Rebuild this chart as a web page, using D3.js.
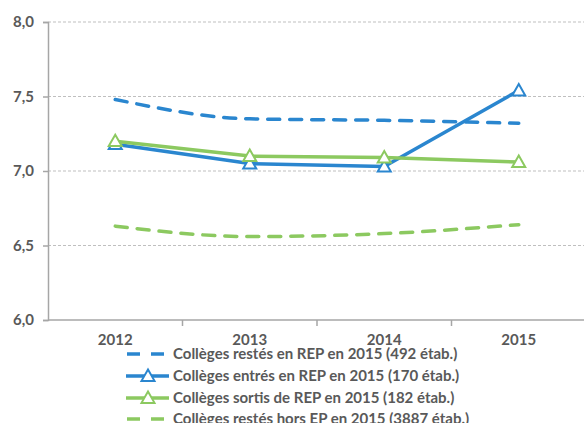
<!DOCTYPE html>
<html>
<head>
<meta charset="utf-8">
<script src="https://cdn.jsdelivr.net/npm/d3@7"></script>
<style>
  body { margin: 0; background: #fff; }
  text { font-family: Lato, "Liberation Sans", sans-serif; font-weight: bold; fill: #595959; }
</style>
</head>
<body>
<svg id="chart" width="584" height="423"></svg>
<script>
"use strict";

const years = ["2012", "2013", "2014", "2015"];
const yTicks = [6.0, 6.5, 7.0, 7.5, 8.0];

const restesEnRep = [7.48, 7.35, 7.34, 7.32];
const entresEnRep = [7.18, 7.05, 7.03, 7.54];
const sortisDeRep = [7.20, 7.10, 7.09, 7.06];
const restesHorsEp = [6.63, 6.56, 6.58, 6.64];

const seriesLabels = [
  "Collèges restés en REP en 2015 (492 étab.)",
  "Collèges entrés en REP en 2015 (170 étab.)",
  "Collèges sortis de REP en 2015 (182 étab.)",
  "Collèges restés hors EP en 2015 (3887 étab.)"
];

const blue = "#2a86cf";
const green = "#8cc960";

const series = [
  { label: seriesLabels[0], values: restesEnRep, color: blue, dashed: true, marker: false },
  { label: seriesLabels[1], values: entresEnRep, color: blue, dashed: false, marker: true },
  { label: seriesLabels[2], values: sortisDeRep, color: green, dashed: false, marker: true },
  { label: seriesLabels[3], values: restesHorsEp, color: green, dashed: true, marker: false }
];

const svg = d3.select("#chart");
const m = { left: 48, top: 22, right: 0, bottom: 103 };
const W = 584, H = 423;

const x = d3.scaleBand().domain(years).range([m.left, m.left + 4 * 134.5]);
const y = d3.scaleLinear().domain([6, 8]).range([H - m.bottom, m.top]);

// gridlines
svg.append("g")
  .selectAll("line")
  .data(yTicks.slice(1))
  .join("line")
  .attr("x1", m.left).attr("x2", W)
  .attr("y1", d => y(d)).attr("y2", d => y(d))
  .attr("stroke", "#bfbfbf")
  .attr("stroke-width", 1)
  .attr("stroke-dasharray", "3,2");

// y axis
const yAxis = d3.axisLeft(y)
  .tickValues(yTicks)
  .tickSize(5)
  .tickPadding(9)
  .tickFormat(d => d3.format(".1f")(d).replace(".", ","));
const yg = svg.append("g").attr("transform", `translate(${m.left},0)`).call(yAxis);
yg.select(".domain").attr("stroke", "#a6a6a6").attr("stroke-width", 1.5);
yg.selectAll(".tick line").attr("stroke", "#a6a6a6").attr("stroke-width", 1.5);
yg.selectAll(".tick text").style("font-size", "15px");

// x axis
const xg = svg.append("g").attr("transform", `translate(0,${y(6)})`);
xg.append("line")
  .attr("x1", m.left).attr("x2", W)
  .attr("stroke", "#a6a6a6").attr("stroke-width", 1.5);
xg.selectAll(".xt")
  .data(years.slice(1))
  .join("line")
  .attr("x1", d => x(d)).attr("x2", d => x(d))
  .attr("y1", 0).attr("y2", 6)
  .attr("stroke", "#a6a6a6").attr("stroke-width", 1.5);
xg.selectAll(".xl")
  .data(years)
  .join("text")
  .attr("x", d => x(d) + x.bandwidth() / 2)
  .attr("y", 25)
  .attr("text-anchor", "middle")
  .style("font-size", "15px")
  .text(d => d);

const cx = d => x(d) + x.bandwidth() / 2;

function triangle(g, px, py, color) {
  const s = 6.5;
  g.append("path")
    .attr("d", `M${px},${py - s}L${px + s},${py + s * 0.75}L${px - s},${py + s * 0.75}Z`)
    .attr("fill", "#fff")
    .attr("stroke", color)
    .attr("stroke-width", 2);
}

// series
series.forEach(s => {
  const line = d3.line()
    .x((d, i) => cx(years[i]))
    .y(d => y(d))
    .curve(s.dashed ? d3.curveMonotoneX : d3.curveLinear);
  const g = svg.append("g");
  g.append("path")
    .datum(s.values)
    .attr("d", line)
    .attr("fill", "none")
    .attr("stroke", s.color)
    .attr("stroke-width", 3.5)
    .attr("stroke-linecap", s.dashed ? "round" : "butt")
    .attr("stroke-dasharray", s.dashed ? "12,10" : null);
  if (s.marker) {
    s.values.forEach((v, i) => triangle(g, cx(years[i]), y(v), s.color));
  }
});

// legend
const lg = svg.append("g");
const rowY = [354, 376, 398, 419];
series.forEach((s, i) => {
  const yy = rowY[i];
  const row = lg.append("g");
  if (s.dashed) {
    row.append("line")
      .attr("x1", 127).attr("x2", 166).attr("y1", yy).attr("y2", yy)
      .attr("stroke", s.color).attr("stroke-width", 3.5)
      .attr("stroke-dasharray", "13,11");
  } else {
    row.append("line")
      .attr("x1", 126).attr("x2", 169).attr("y1", yy).attr("y2", yy)
      .attr("stroke", s.color).attr("stroke-width", 3.5);
    triangle(row, 148, yy, s.color);
  }
  row.append("text")
    .attr("x", 173).attr("y", yy + 5)
    .style("font-size", "15px")
    .text(s.label);
});
</script>
</body>
</html>
